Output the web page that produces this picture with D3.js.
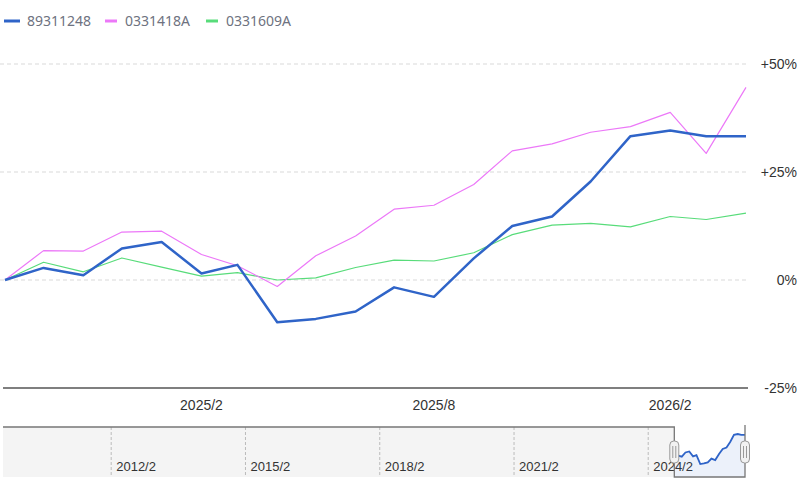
<!DOCTYPE html>
<html>
<head>
<meta charset="utf-8">
<script src="https://cdn.jsdelivr.net/npm/d3@7"></script>
<style>
  body { margin: 0; background: #fff; }
  svg { display: block; }
</style>
</head>
<body>
<svg id="chart" width="807" height="487"></svg>
<script>
// monthly points, 2024/9 .. 2026/4
const months = ["2024-09","2024-10","2024-11","2024-12","2025-01","2025-02","2025-03","2025-04",
  "2025-05","2025-06","2025-07","2025-08","2025-09","2025-10","2025-11","2025-12","2026-01",
  "2026-02","2026-03","2026-04"];
const s89311248 = [0, 2.8, 1.1, 7.3, 8.8, 1.5, 3.5, -9.8, -9.0, -7.3, -1.7, -3.9, 5.0, 12.5,
  14.7, 22.8, 33.3, 34.6, 33.3, 33.3];
const s0331418A = [0, 6.8, 6.7, 11.1, 11.3, 5.9, 3.3, -1.5, 5.6, 10.2, 16.4, 17.3, 22.1, 29.9,
  31.5, 34.2, 35.5, 38.8, 29.3, 44.6];
const s0331609A = [0, 4.1, 1.9, 5.1, 3.0, 0.9, 1.7, 0, 0.5, 2.9, 4.6, 4.4, 6.3, 10.5, 12.7,
  13.1, 12.3, 14.7, 14.0, 15.5];
const seriesNames = ["89311248", "0331418A", "0331609A"];
const seriesColors = ["#2f64c8", "#ec78f8", "#58dc7a"];
const yTicks = [50, 25, 0, -25];
const xTickLabels = ["2025-02", "2025-08", "2026-02"];
const navTickLabels = ["2012-02", "2015-02", "2018-02", "2021-02", "2024-02"];

const parse = d3.timeParse("%Y-%m");
const fmt = d3.timeFormat("%Y/%-m");
const allSeries = [s89311248, s0331418A, s0331609A];
const dates = months.map(parse);

const svg = d3.select("#chart");

// scales
const x = d3.scaleTime().domain([dates[0], dates[dates.length - 1]]).range([5, 746]);
const y = d3.scaleLinear().domain([-25, 50]).range([388, 64]);

// grid lines
svg.append("g")
  .selectAll("line")
  .data(yTicks.filter(d => d > -25))
  .join("line")
  .attr("x1", 0).attr("x2", 746)
  .attr("y1", d => y(d)).attr("y2", d => y(d))
  .attr("stroke", "#d9d9d9")
  .attr("stroke-dasharray", "4,3");

// bottom baseline
svg.append("line")
  .attr("x1", 3).attr("x2", 748)
  .attr("y1", y(-25)).attr("y2", y(-25))
  .attr("stroke", "#555").attr("stroke-width", 1.5);

// y labels on the right
svg.append("g")
  .selectAll("text")
  .data(yTicks)
  .join("text")
  .attr("x", 797)
  .attr("y", d => y(d) + 5)
  .attr("text-anchor", "end")
  .attr("font-family", "Liberation Sans, Arial, sans-serif")
  .attr("font-size", 14)
  .attr("fill", "#333")
  .text(d => d > 0 ? "+" + d + "%" : d + "%");

// x labels
svg.append("g")
  .selectAll("text")
  .data(xTickLabels.map(parse))
  .join("text")
  .attr("x", d => x(d))
  .attr("y", 410)
  .attr("text-anchor", "middle")
  .attr("font-family", "Liberation Sans, Arial, sans-serif")
  .attr("font-size", 14)
  .attr("fill", "#333")
  .text(d => fmt(d));

// lines
const line = d3.line()
  .x((d, i) => x(dates[i]))
  .y(d => y(d));

const widths = [2.5, 1.2, 1.2];
const drawOrder = [2, 1, 0];
for (let k of drawOrder) {
  svg.append("path")
    .attr("d", line(allSeries[k]))
    .attr("fill", "none")
    .attr("stroke", seriesColors[k])
    .attr("stroke-width", widths[k])
    .attr("stroke-linejoin", "round");
}

// legend
const legendX = [4, 105, 206];
seriesNames.forEach((name, i) => {
  svg.append("line")
    .attr("x1", legendX[i]).attr("x2", legendX[i] + (i === 0 ? 16 : 12))
    .attr("y1", 21).attr("y2", 21)
    .attr("stroke", seriesColors[i])
    .attr("stroke-width", 3);
  svg.append("text")
    .attr("x", legendX[i] + (i === 0 ? 23 : 20))
    .attr("y", 26)
    .attr("font-family", "Noto Sans, sans-serif")
    .attr("font-size", 14)
    .attr("fill", "#6e7280")
    .text(name);
});

// navigator
const navTop = 427, navBottom = 477;
const nx = d3.scaleTime().domain([parse("2009-09"), parse("2026-04")]).range([3, 745]);
const ny = d3.scaleLinear().domain([-29, 45]).range([navBottom, navTop]);
const selL = nx(dates[0]), selR = nx(dates[dates.length - 1]);

svg.append("rect")
  .attr("x", 3).attr("y", navTop)
  .attr("width", selL - 3).attr("height", navBottom - navTop)
  .attr("fill", "#f4f4f4");

svg.append("g")
  .selectAll("line")
  .data(navTickLabels.map(parse))
  .join("line")
  .attr("x1", d => nx(d)).attr("x2", d => nx(d))
  .attr("y1", navTop).attr("y2", navBottom)
  .attr("stroke", "#bbb")
  .attr("stroke-dasharray", "3,2");

svg.append("g")
  .selectAll("text")
  .data(navTickLabels.map(parse))
  .join("text")
  .attr("x", d => nx(d) + 5)
  .attr("y", 471)
  .attr("font-family", "Liberation Sans, Arial, sans-serif")
  .attr("font-size", 13)
  .attr("fill", "#333")
  .text(d => fmt(d));

const navArea = d3.area()
  .x((d, i) => nx(dates[i]))
  .y0(navBottom)
  .y1(d => ny(d));
svg.append("path")
  .attr("d", navArea(s89311248))
  .attr("fill", "#2f64c8")
  .attr("fill-opacity", 0.09);
svg.append("path")
  .attr("d", d3.line().x((d, i) => nx(dates[i])).y(d => ny(d))(s89311248))
  .attr("fill", "none")
  .attr("stroke", "#2f64c8")
  .attr("stroke-width", 1.8);

// outline
svg.append("path")
  .attr("d", `M3,${navTop}H${selL}V${navBottom}H${selR}V${navTop - 2}`)
  .attr("fill", "none")
  .attr("stroke", "#777")
  .attr("stroke-width", 1.3);

// handles
[selL, selR].forEach(hx => {
  const g = svg.append("g").attr("transform", `translate(${hx},452)`);
  g.append("rect")
    .attr("x", -4.5).attr("y", -11)
    .attr("width", 9).attr("height", 22)
    .attr("rx", 4)
    .attr("fill", "#f2f2f2")
    .attr("stroke", "#999");
  g.append("line").attr("x1", -1.5).attr("x2", -1.5).attr("y1", -6).attr("y2", 6).attr("stroke", "#999");
  g.append("line").attr("x1", 1.5).attr("x2", 1.5).attr("y1", -6).attr("y2", 6).attr("stroke", "#999");
});
</script>
</body>
</html>
